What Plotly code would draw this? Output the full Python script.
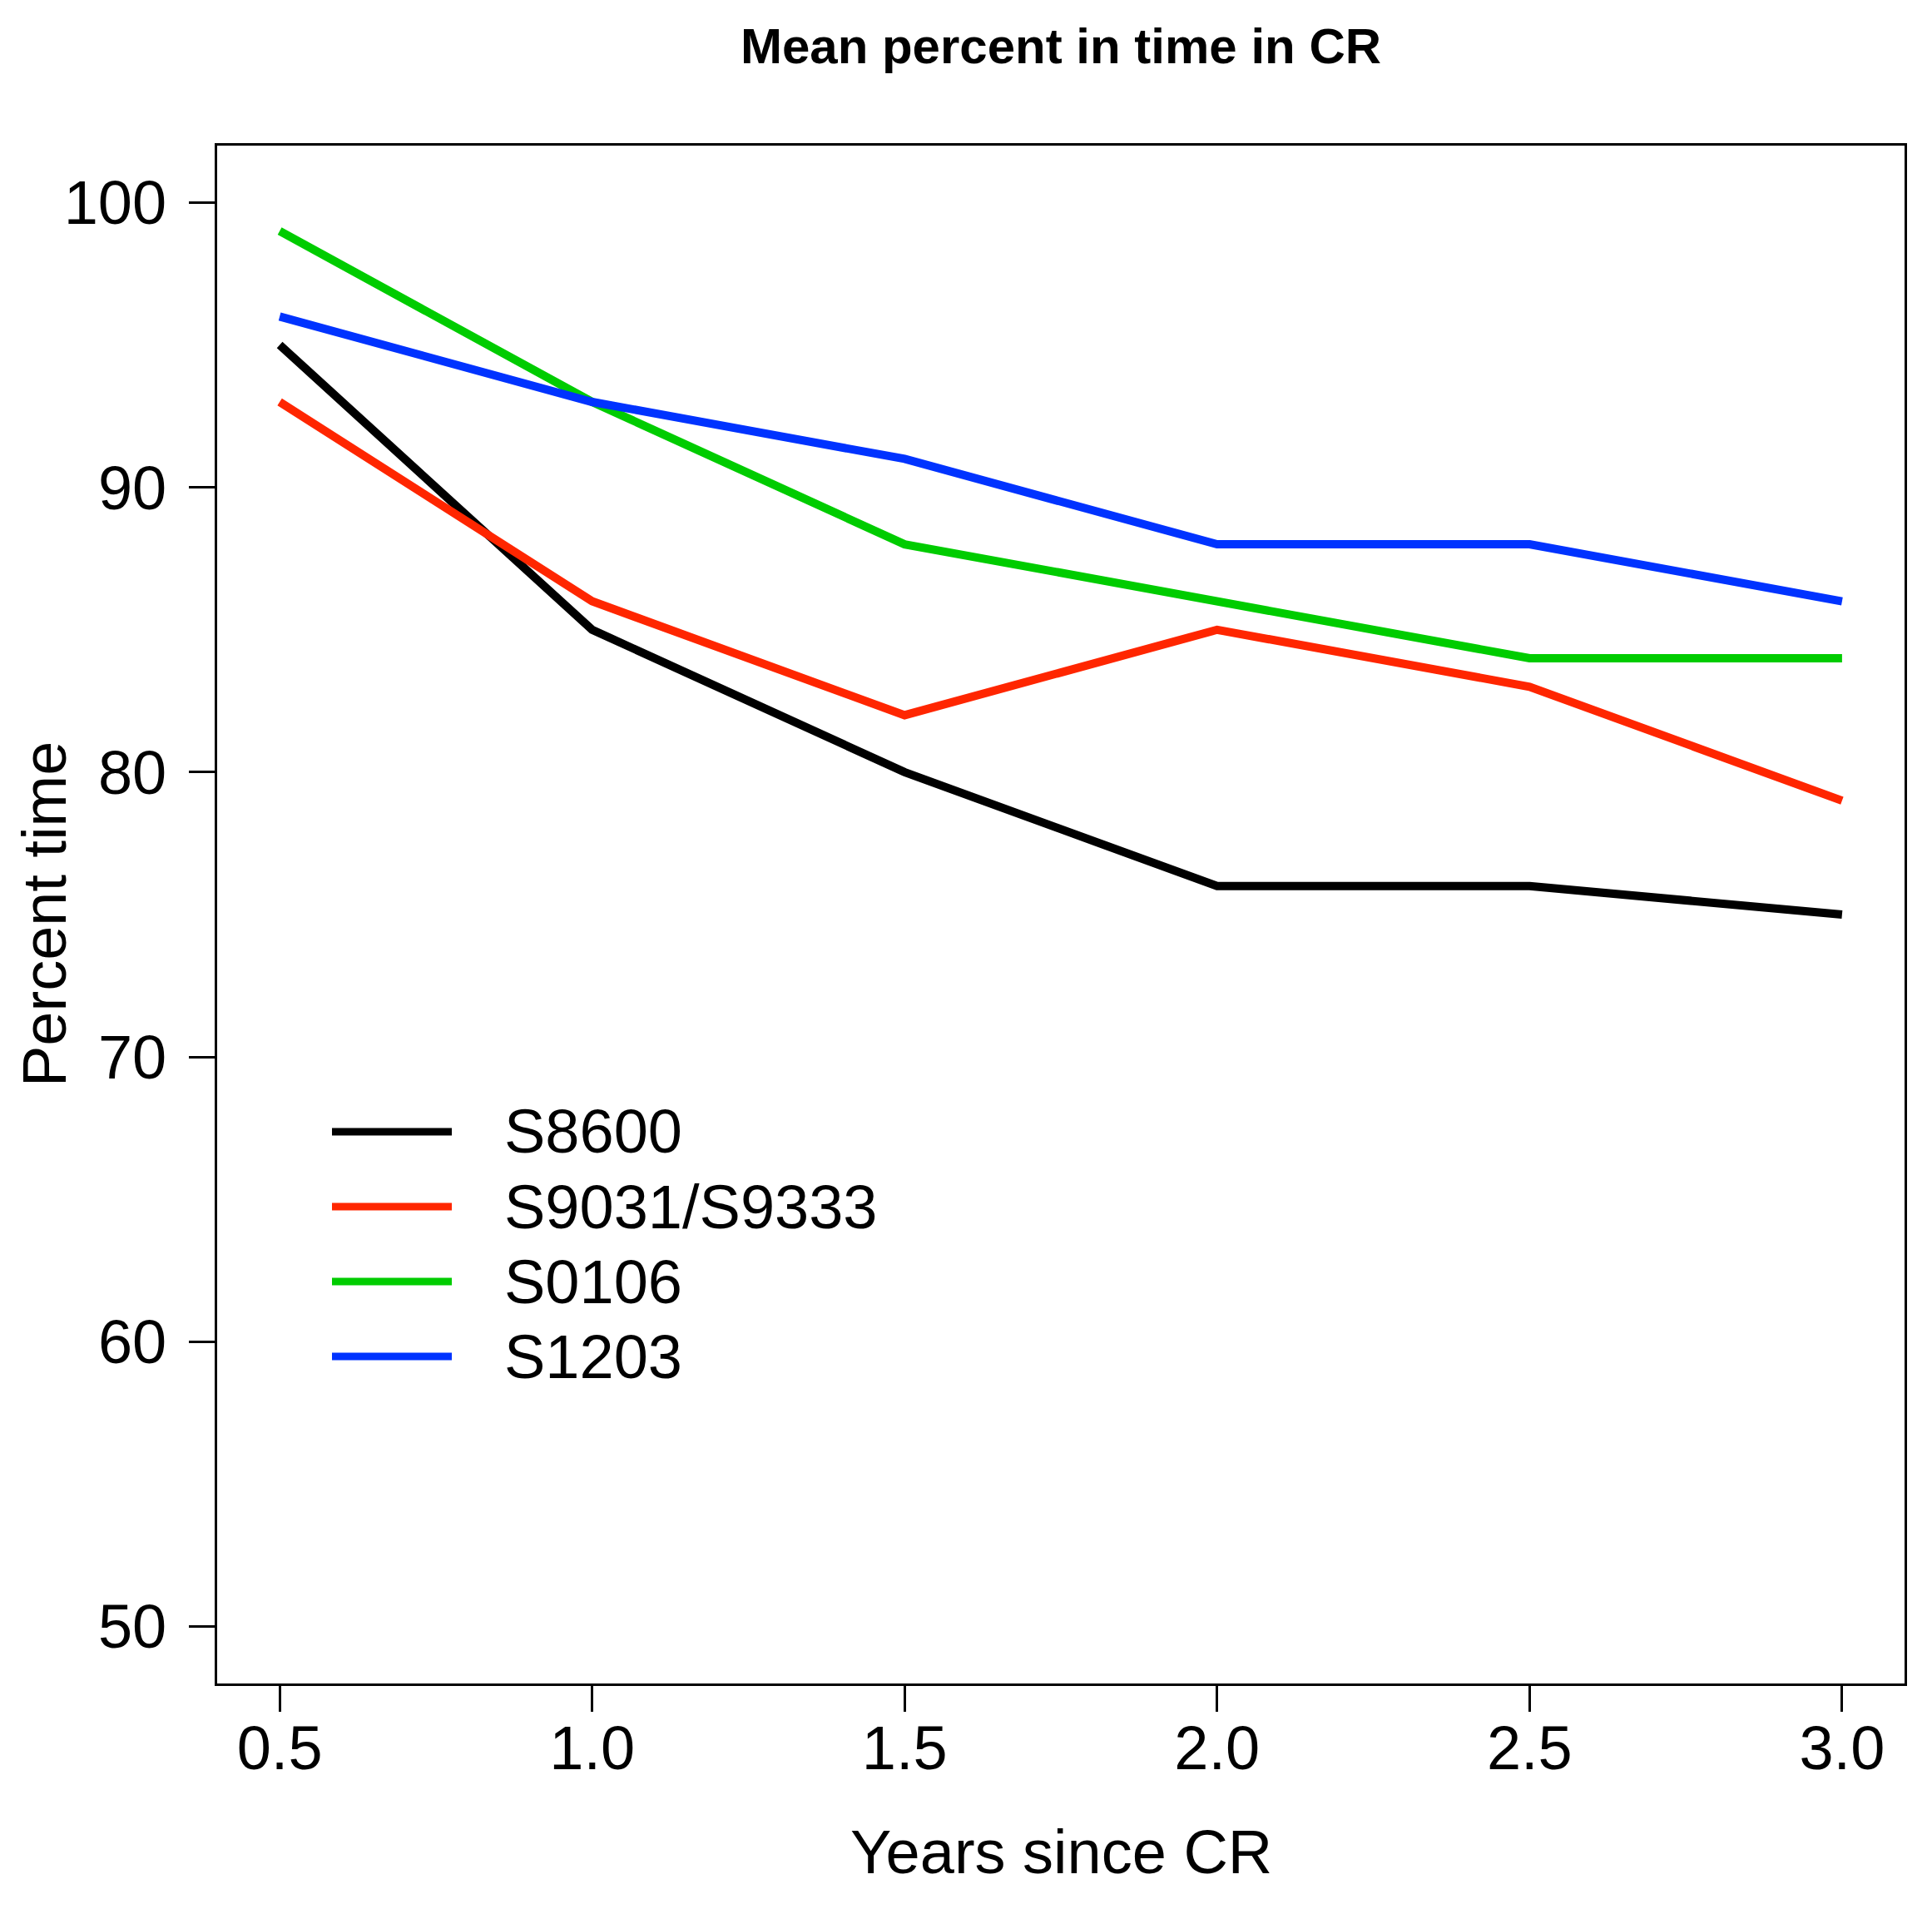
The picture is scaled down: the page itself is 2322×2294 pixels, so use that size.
import plotly.graph_objects as go

years = [0.5, 1.0, 1.5, 2.0, 2.5, 3.0]
series_names = ["S8600", "S9031/S9333", "S0106", "S1203"]
s8600 = [95, 85, 80, 76, 76, 75]
s9031_s9333 = [93, 86, 82, 85, 83, 79]
s0106 = [99, 93, 88, 86, 84, 84]
s1203 = [96, 93, 91, 88, 88, 86]
series_values = [s8600, s9031_s9333, s0106, s1203]
colors = ["#000000", "#FF2600", "#00CC00", "#0033FF"]
x_ticks = [0.5, 1.0, 1.5, 2.0, 2.5, 3.0]
x_tick_labels = ["0.5", "1.0", "1.5", "2.0", "2.5", "3.0"]
y_ticks = [50, 60, 70, 80, 90, 100]

# page body has an 8px margin; compensate so the plot lands where the reference has it
OFF = 8
W, H = 2322 - OFF, 2294 - OFF
L, T = 261 - OFF, 175 - OFF
PW, PH = 2028, 1848
R = W - L - PW
B = H - T - PH
FONT = "Liberation Sans, Arial, sans-serif"

fig = go.Figure()
for name, vals, col in zip(series_names, series_values, colors):
    fig.add_trace(go.Scatter(x=years, y=vals, mode="lines", name=name,
                             line=dict(color=col, width=10), showlegend=False))

# helpers converting absolute page pixels to paper coordinates
def px_x(p):
    return (p - OFF - L) / PW

def px_y(p):
    return (T + PH - (p - OFF)) / PH

leg_y = [1360, 1450, 1540, 1630]
shapes = []
annotations = []
for name, col, ly in zip(series_names, colors, leg_y):
    shapes.append(dict(type="line", xref="paper", yref="paper",
                       x0=px_x(399), x1=px_x(543), y0=px_y(ly), y1=px_y(ly),
                       line=dict(color=col, width=9)))
    annotations.append(dict(text=name, xref="paper", yref="paper",
                            x=px_x(604), y=px_y(ly), xanchor="left", yanchor="middle",
                            showarrow=False, font=dict(size=74, color="black", family=FONT)))

annotations.append(dict(text="Years since CR", xref="paper", yref="paper",
                        x=0.5, y=px_y(2225), xanchor="center", yanchor="middle",
                        showarrow=False, font=dict(size=74, color="black", family=FONT)))
annotations.append(dict(text="Percent time", xref="paper", yref="paper",
                        x=px_x(53), y=0.5, xanchor="center", yanchor="middle", textangle=-90,
                        borderpad=0,
                        showarrow=False, font=dict(size=74, color="black", family=FONT)))

fig.update_layout(
    width=W, height=H,
    margin=dict(l=L, r=R, t=T, b=B),
    paper_bgcolor="white", plot_bgcolor="white",
    title=dict(text="<b>Mean percent in time in CR</b>", x=0.5, xref="paper",
               y=1 - (55 - OFF) / H, yref="container", xanchor="center", yanchor="middle",
               font=dict(size=60, color="black", family=FONT)),
    font=dict(family=FONT, color="black"),
    shapes=shapes,
    annotations=annotations,
    showlegend=False,
)
fig.update_xaxes(range=[0.4, 3.1], tickvals=x_ticks, ticktext=x_tick_labels,
                 ticks="outside", ticklen=31, tickwidth=3, tickcolor="black",
                 showline=True, linewidth=3, linecolor="black", mirror=True,
                 showgrid=False, zeroline=False, ticklabelstandoff=-20,
                 tickfont=dict(size=74, family=FONT, color="black"))
fig.update_yaxes(range=[48, 102], tickvals=y_ticks,
                 ticks="outside", ticklen=31, tickwidth=3, tickcolor="black",
                 showline=True, linewidth=3, linecolor="black", mirror=True,
                 showgrid=False, zeroline=False, ticklabelstandoff=12,
                 tickfont=dict(size=74, family=FONT, color="black"))

fig.write_html("out.html")
